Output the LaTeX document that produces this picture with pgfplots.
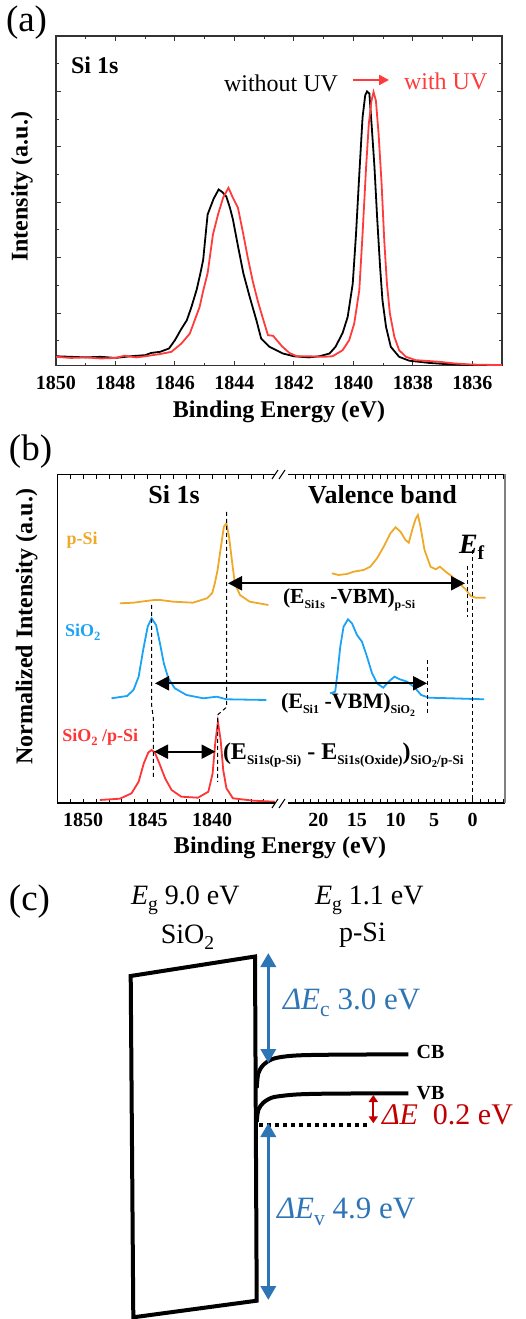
\documentclass[border=0pt]{standalone}
\usepackage{pgfplots}
\pgfplotsset{compat=1.18}
\usepackage{fontspec}
\setmainfont{Liberation Serif}
\usetikzlibrary{arrows.meta}
\definecolor{uvred}{HTML}{FF3B3B}
\definecolor{psi}{HTML}{EEA92A}
\definecolor{sio}{HTML}{1AA3F5}
\definecolor{sired}{HTML}{FF3434}
\definecolor{bblue}{HTML}{2E75B6}
\definecolor{dred}{HTML}{C00000}
\newcommand{\fs}[1]{\fontsize{#1}{#1}\selectfont}
\newcommand{\sub}[2][0.55]{\raisebox{-0.22em}{\scalebox{#1}{#2}}}
\begin{document}
\begin{tikzpicture}[x=1pt,y=1pt, lbl/.style={inner sep=0pt,outer sep=0pt}]
\useasboundingbox (0,0) rectangle (525,1319);
\pgfplotsset{/pgf/number format/1000 sep={}, /pgf/number format/assume math mode=true}
% ---------------- (a)
\begin{axis}[at={(56pt,953.3pt)}, anchor=south west, width=446pt, height=329.7pt, scale only axis,
 xmin=1835, xmax=1850, x dir=reverse, ymin=0.05, ymax=6,
 xtick={1836,1838,...,1850}, minor xtick={1835,1837,...,1849},
 ytick={1,2,3,4,5}, yticklabels={}, minor ytick={0.5,1.5,...,5.5},
 tick align=inside, major tick length=5pt, minor tick length=3pt,
 axis line style={draw=black!80, line width=1.3pt},
 tick style={black!80, line width=1pt},
 xticklabel style={font=\fs{20}\bfseries, anchor=center, yshift=-17pt},
 xlabel={Binding Energy (eV)}, ylabel={Intensity (a.u.)},
 label style={font=\fs{24}\bfseries},
 xlabel style={at={(axis description cs:0.5,-0.1395)}, anchor=center},
 ylabel style={at={(axis description cs:-0.0762,0.542)}, anchor=center},
]
\addplot[black, line width=1.8pt] coordinates {
(1850,0.22) (1849.5,0.21) (1849,0.20) (1848.5,0.21) (1848,0.19) (1847.5,0.22) (1847,0.24)
(1846.8,0.28) (1846.5,0.30) (1846.2,0.36) (1846.0,0.51) (1845.8,0.7) (1845.6,0.87) (1845.45,1.1)
(1845.27,1.42) (1845.15,1.7) (1845.05,1.96) (1844.97,2.4) (1844.9,2.78) (1844.7,3.06) (1844.53,3.23)
(1844.4,3.18) (1844.27,3.1) (1844.15,2.9) (1844.05,2.69) (1843.88,2.21) (1843.7,1.72) (1843.49,1.3)
(1843.26,0.87) (1843.1,0.54) (1842.82,0.39) (1842.37,0.27) (1842.0,0.22) (1841.5,0.2) (1841.14,0.22)
(1840.8,0.27) (1840.6,0.39) (1840.36,0.64) (1840.19,0.93) (1840.02,1.53) (1839.91,2.42) (1839.8,3.5)
(1839.69,4.53) (1839.6,4.93) (1839.54,5.0) (1839.46,4.96) (1839.38,4.36) (1839.29,3.64) (1839.2,2.73)
(1839.1,1.83) (1839.02,1.23) (1838.9,0.75) (1838.74,0.39) (1838.46,0.21) (1838.12,0.14) (1837.45,0.1)
(1836.9,0.08) (1836.0,0.06) (1835,0.06)};
\addplot[uvred, line width=1.8pt] coordinates {
(1850,0.21) (1849.5,0.19) (1849,0.2) (1848.5,0.18) (1848,0.19) (1847.7,0.23) (1847.3,0.2) (1847,0.22)
(1846.5,0.26) (1846.12,0.3) (1845.78,0.45) (1845.5,0.63) (1845.17,1.11) (1845.05,1.4) (1844.9,1.72)
(1844.72,2.42) (1844.55,2.78) (1844.38,3.08) (1844.2,3.26) (1844.05,3.08) (1843.88,2.9) (1843.7,2.42)
(1843.55,2.0) (1843.38,1.57) (1843.21,1.21) (1843.04,0.9) (1842.87,0.6) (1842.7,0.59) (1842.4,0.4)
(1842.15,0.28) (1841.9,0.22) (1841.5,0.22) (1841,0.21) (1840.7,0.22) (1840.36,0.33) (1840.14,0.51)
(1839.97,0.81) (1839.8,1.41) (1839.69,2.42) (1839.57,3.64) (1839.48,4.41) (1839.39,4.83) (1839.32,4.99)
(1839.24,4.83) (1839.15,4.23) (1839.05,3.34) (1838.96,2.31) (1838.87,1.53) (1838.77,0.99) (1838.62,0.57)
(1838.46,0.33) (1838.23,0.21) (1837.9,0.15) (1837.1,0.12) (1836.6,0.09) (1836.0,0.07) (1835,0.06)};
\end{axis}
% ---------------- (b) left
\begin{axis}[at={(57.3pt,516pt)}, anchor=south west, width=217.7pt, height=328pt, scale only axis,
 xmin=1835.14, xmax=1852, x dir=reverse, ymin=0, ymax=328,
 ytick=\empty, xtick={1840,1845,1850}, minor xtick={1836,1837,...,1852},
 tick align=inside, major tick length=4pt, minor tick length=4pt,
 axis line style={draw=none}, tick style={black, line width=0.8pt},
 xticklabel style={font=\fs{20}\bfseries, anchor=center, yshift=-17pt},
 xlabel={Binding Energy (eV)}, ylabel={Normalized Intensity (a.u.)},
 label style={font=\fs{24}\bfseries},
 xlabel style={at={(axis description cs:1.023,-0.138)}, anchor=center},
 ylabel style={at={(axis description cs:-0.1406,0.5366)}, anchor=center},
]
\addplot[psi, line width=1.8pt] coordinates {
(1847.15,199.7) (1846.1,200.3) (1845.1,202) (1844.5,203) (1844.05,203) (1843.0,201.3) (1841.5,200.3)
(1840.4,204.7) (1840.0,210) (1839.8,219.7) (1839.6,232) (1839.4,249.7) (1839.1,276.3) (1838.9,279.7)
(1838.7,266.3) (1838.45,239.7) (1838.25,219.7) (1837.85,208) (1837.1,201.3) (1835.65,198)};
\addplot[sio, line width=1.8pt] coordinates {
(1847.8,104.7) (1846.6,107) (1846.1,113) (1845.7,126.3) (1845.35,153) (1845.0,176.3) (1844.7,184.7)
(1844.35,178) (1844.05,159.7) (1843.75,139.7) (1843.4,124.7) (1842.9,114.7) (1842.0,108) (1840.7,104.7)
(1839.65,106.3) (1838.9,103.7) (1835.8,103)};
\addplot[sired, line width=1.8pt] coordinates {
(1848.7,3) (1847.15,4.3) (1846.25,9.7) (1845.7,21.3) (1845.3,39.7) (1844.95,50.5) (1844.7,53) (1844.45,50.5)
(1844.1,39.7) (1843.65,24.7) (1843.15,13) (1842.4,6.3) (1841.1,5.3) (1840.3,11.3) (1839.97,29.7)
(1839.77,59.7) (1839.56,81.3) (1839.35,63) (1839.15,33) (1838.9,14.7) (1838.4,4.7) (1836.8,2.3) (1835.14,1.3)};
\end{axis}
% ---------------- (b) right
\begin{axis}[at={(288pt,516pt)}, anchor=south west, width=217pt, height=328pt, scale only axis,
 xmin=-4.2, xmax=23.95, x dir=reverse, ymin=0, ymax=328,
 ytick=\empty, xtick={0,5,10,15,20}, minor xtick={-4,-3,...,23},
 tick align=inside, major tick length=4pt, minor tick length=4pt,
 axis line style={draw=none}, tick style={black, line width=0.8pt},
 xticklabel style={font=\fs{20}\bfseries, anchor=center, yshift=-17pt},
]
\addplot[psi, line width=1.8pt] coordinates {
(18.26,229.7) (17.4,228) (16.3,229) (15.44,231.3) (14.14,233) (13.27,236.3) (12.4,244.7) (11.54,256.3)
(10.66,269.7) (10.0,275.7) (9.36,271.3) (8.71,263) (8.28,260.3) (7.84,273) (7.4,284) (7.1,288) (6.8,278)
(6.24,253) (5.46,236.3) (4.8,233.7) (4.24,236.3) (3.5,231.3) (2.63,226.3) (1.77,219.7) (0.9,213.7)
(0.25,207) (-0.4,205.3) (-1.7,205.3)};
\addplot[sio, line width=1.8pt] coordinates {
(18.48,109.7) (17.83,111.3) (17.53,129.7) (17.17,156.3) (16.74,176.3) (16.17,183.7) (15.65,179.7)
(15.0,168) (14.35,161.3) (13.7,146.3) (13.05,129.7) (12.4,119.7) (11.6,115.3) (10.9,121.3) (10.14,126.3)
(9.45,123.7) (8.5,121.3) (7.63,116.3) (6.67,108) (5.68,105.3) (2.85,104.7) (-1.48,103.7)};
\end{axis}
% ---------------- (c)
\begin{axis}[at={(0pt,0pt)}, anchor=south west, width=525pt, height=459pt, scale only axis, hide axis,
 xmin=0, xmax=525, ymin=860, ymax=1319, y dir=reverse, clip=false]
\addplot[black, line width=4pt, line join=miter] coordinates {
(130.7,976) (255,956.5) (256.7,1300.7) (133.3,1317.3) (130.7,976) (255,956.5)};
\addplot[black, line width=4pt, smooth] coordinates {
(256.7,1088) (258.3,1073.3) (263.3,1065) (271.7,1059.3) (283.3,1056.7) (300,1055.3) (333.3,1054.7) (408.3,1054.3)};
\addplot[black, line width=4pt, smooth] coordinates {
(256.7,1122) (258.3,1110) (263.3,1102.7) (271.7,1097.7) (283.3,1095.7) (300,1094.3) (333.3,1093.6) (408.3,1093.3)};
\addplot[black, line width=3.5pt, dash pattern=on 4pt off 4pt] coordinates {(259,1125) (368.3,1125)};
\addplot[bblue, line width=3.5pt, {Triangle[length=14pt,width=15pt]}-{Triangle[length=14pt,width=15pt]}] coordinates {(268.3,953) (268.3,1063)};
\addplot[bblue, line width=3.5pt, {Triangle[length=14pt,width=15pt]}-{Triangle[length=14pt,width=15pt]}] coordinates {(268.3,1123) (268.3,1300)};
\addplot[dred, line width=2pt, {Triangle[length=7pt,width=9pt]}-{Triangle[length=7pt,width=9pt]}] coordinates {(373.3,1095) (373.3,1123.3)};
\end{axis}
% ---------------- annotations in pixel frame
\begin{scope}[shift={(0,1319)}, yscale=-1]
% (a)
\node[lbl, anchor=west, font=\fs{37}] at (6,23) {(a)};
\node[lbl, anchor=west, font=\fs{24}\bfseries] at (71,65) {Si 1s};
\node[lbl, anchor=west, font=\fs{24}] at (224,83.3) {without UV};
\draw[uvred, line width=2.2pt, -{Triangle[length=10pt,width=10pt]}] (353,80) -- (389,80);
\node[lbl, anchor=west, font=\fs{24}, text=uvred] at (404,81.7) {with UV};
% (b)
\node[lbl, anchor=west, font=\fs{37}] at (9,451.7) {(b)};
\draw[black, line width=1.1pt] (275,474.5)--(57.3,474.5)--(57.3,803)--(275,803);
\draw[black, line width=1.1pt] (288,474.5)--(505,474.5);
\draw[black, line width=1.1pt] (288,803)--(505,803);
\draw[black!50, line width=1.5pt] (505,474.5)--(505,803);
\draw[line width=1pt] (272,479)--(278,470) (279,479)--(285,470);
\draw[line width=1pt] (272,808)--(278,799) (279,808)--(285,799);
\begin{scope}[line width=1pt, dash pattern=on 4pt off 3pt]
\draw (151.7,605)--(151.7,706)--(153.3,718)--(153.3,778);
\draw (226.7,512)--(226.7,707)--(217.5,715)--(217.5,782);
\draw (467,566)--(467,617);
\draw (472.7,550)--(472.7,803);
\draw (427.7,660)--(427.7,713);
\end{scope}
\draw[line width=2.2pt, {Triangle[length=14pt,width=14pt]}-{Triangle[length=14pt,width=14pt]}] (228,583.3)--(465,583.3);
\draw[line width=2.2pt, {Triangle[length=14pt,width=14pt]}-{Triangle[length=14pt,width=14pt]}] (155,683.3)--(427,683.3);
\draw[line width=2.2pt, {Triangle[length=14pt,width=14pt]}-{Triangle[length=14pt,width=14pt]}] (154,751.7)--(215.5,751.7);
\node[lbl, font=\fs{26}\bfseries] at (174,495) {Si 1s};
\node[lbl, font=\fs{26}\bfseries] at (382.5,495) {Valence band};
\node[lbl, anchor=west, font=\fs{18}\bfseries, text=psi] at (66.7,540) {p-Si};
\node[lbl, anchor=west, font=\fs{18}\bfseries, text=sio] at (65,632) {SiO\sub[0.7]{2}};
\node[lbl, anchor=west, font=\fs{18}\bfseries, text=sired] at (62.3,737) {SiO\sub[0.7]{2} /p-Si};
\node[lbl, anchor=west, font=\fs{28}\bfseries] at (459,547) {\itshape E\upshape\sub[0.7]{f}};
\node[lbl, anchor=west, font=\fs{21.5}\bfseries] at (283,600) {(E\sub{Si1s} -VBM)\sub{p-Si}};
\node[lbl, anchor=west, font=\fs{22}\bfseries] at (281,705) {(E\sub{Si1} -VBM)\sub{SiO\sub[0.8]{2}}};
\node[lbl, anchor=west, font=\fs{24}\bfseries] at (223,755) {(E\sub{Si1s(p-Si)} - E\sub{Si1s(Oxide)})\sub{SiO\sub[0.8]{2}/p-Si}};
% (c)
\node[lbl, anchor=west, font=\fs{37}] at (9,901.7) {(c)};
\node[lbl, anchor=west, font=\fs{28}] at (131,900) {\itshape E\upshape\sub[0.7]{g} 9.0 eV};
\node[lbl, font=\fs{28}] at (187.5,937) {SiO\sub[0.7]{2}};
\node[lbl, anchor=west, font=\fs{28}] at (315,900) {\itshape E\upshape\sub[0.7]{g} 1.1 eV};
\node[lbl, font=\fs{28}] at (362.5,935) {p-Si};
\node[lbl, anchor=west, font=\fs{31}, text=bblue] at (283,1003) {\itshape ΔE\upshape\sub[0.7]{c}\ 3.0 eV};
\node[lbl, anchor=west, font=\fs{31}, text=bblue] at (277,1212) {\itshape ΔE\upshape\sub[0.7]{v}\ 4.9 eV};
\node[lbl, anchor=west, font=\fs{30}, text=dred] at (382,1115) {\itshape ΔE\upshape\ \ 0.2 eV};
\node[lbl, anchor=west, font=\fs{20}\bfseries] at (416.7,1052.3) {CB};
\node[lbl, anchor=west, font=\fs{20}\bfseries] at (416.7,1093.3) {VB};
\end{scope}
\end{tikzpicture}
\end{document}
